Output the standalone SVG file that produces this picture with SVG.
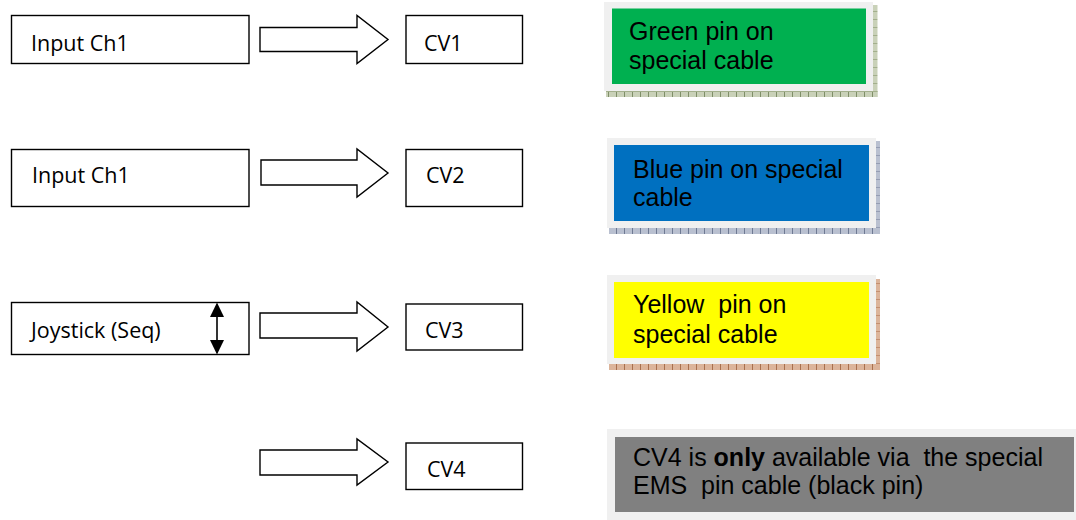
<svg xmlns="http://www.w3.org/2000/svg" width="1076" height="520" viewBox="0 0 1076 520">
<style>
.box{fill:#fff;stroke:#000;stroke-width:1.4}
.blk{fill:#fff;stroke:#000;stroke-width:1.4;stroke-linejoin:miter}
.lt{font-family:"Open Sans","Noto Sans",sans-serif;font-size:21.5px;fill:#000}
.rt{font-family:"Liberation Sans",Arial,sans-serif;font-size:25px;fill:#000;white-space:pre}
.frame{fill:#f0f0f0}
</style>
<defs>
<pattern id="pg" width="8" height="8" patternUnits="userSpaceOnUse">
<rect width="8" height="8" fill="#c9d1b8"/><rect x="0" y="0" width="1" height="8" fill="#7f8f68"/><rect x="0" y="3" width="8" height="1" fill="#a3af8c"/>
</pattern>
<pattern id="pb" width="8" height="8" patternUnits="userSpaceOnUse">
<rect width="8" height="8" fill="#b9c0d0"/><rect x="0" y="0" width="1" height="8" fill="#6f7a93"/><rect x="0" y="3" width="8" height="1" fill="#959db3"/>
</pattern>
<pattern id="py" width="8" height="8" patternUnits="userSpaceOnUse">
<rect width="8" height="8" fill="#dcb49a"/><rect x="0" y="0" width="1" height="8" fill="#a8704e"/><rect x="0" y="3" width="8" height="1" fill="#c48f70"/>
</pattern>
</defs>

<g id="connectors">
<path class="blk" d="M260,27.5 H357 V15.5 L388,39.5 L357,63.5 V51.5 H260 Z"/>
<path class="blk" d="M261,160 H357 V149 L388,173 L357,197 V185 H261 Z"/>
<path class="blk" d="M260,313 H357 V302 L388,327 L357,351 V338 H260 Z"/>
<path class="blk" d="M260,450 H357 V439 L388,462 L357,485 V475 H260 Z"/>
</g>

<g id="input1">
<rect class="box" x="11.5" y="15.5" width="237.5" height="48"/>
<text class="lt" x="31" y="51">Input Ch1</text>
</g>
<g id="cv1">
<rect class="box" x="406" y="15.5" width="116.5" height="48"/>
<text class="lt" x="424" y="51">CV1</text>
</g>

<g id="input2">
<rect class="box" x="11.5" y="149.5" width="237.5" height="57"/>
<text class="lt" x="32" y="183">Input Ch1</text>
</g>
<g id="cv2">
<rect class="box" x="406" y="149.5" width="116.5" height="57"/>
<text class="lt" x="426" y="183">CV2</text>
</g>

<g id="joystick">
<rect class="box" x="11.5" y="302.5" width="237.5" height="52"/>
<text class="lt" x="31" y="338">Joystick (Seq)</text>
<line x1="217" y1="314" x2="217" y2="343" stroke="#000" stroke-width="1.6"/>
<path d="M217,302.5 L224,317 L210,317 Z" fill="#000"/>
<path d="M217,354.5 L224,340 L210,340 Z" fill="#000"/>
</g>
<g id="cv3">
<rect class="box" x="406" y="304" width="116.5" height="46"/>
<text class="lt" x="425" y="338">CV3</text>
</g>

<g id="cv4">
<rect class="box" x="406" y="443" width="116.5" height="46.5"/>
<text class="lt" x="427" y="477">CV4</text>
</g>

<g id="green">
<rect x="873" y="5" width="4.5" height="92" fill="url(#pg)"/>
<rect x="606" y="91" width="271.5" height="6" fill="url(#pg)"/>
<rect class="frame" x="604" y="2" width="269" height="89"/>
<rect x="612" y="8.5" width="254" height="75.5" fill="#00b050"/>
<text class="rt" x="629" y="40">Green pin on</text>
<text class="rt" x="629" y="69">special cable</text>
</g>

<g id="blue">
<rect x="876" y="141" width="4" height="93" fill="url(#pb)"/>
<rect x="609" y="228" width="271" height="6" fill="url(#pb)"/>
<rect class="frame" x="607" y="138" width="269" height="90"/>
<rect x="614" y="145" width="255" height="76" fill="#0070c0"/>
<text class="rt" x="633" y="178">Blue pin on special</text>
<text class="rt" x="633" y="206">cable</text>
</g>

<g id="yellow">
<rect x="876" y="279" width="4" height="91" fill="url(#py)"/>
<rect x="609" y="364" width="271" height="6" fill="url(#py)"/>
<rect class="frame" x="607" y="275" width="269" height="89"/>
<rect x="614" y="282" width="255" height="76" fill="#ffff00"/>
<text class="rt" x="633" y="313">Yellow  pin on</text>
<text class="rt" x="633" y="343">special cable</text>
</g>

<g id="gray">
<rect class="frame" x="607" y="429" width="469" height="91"/>
<rect x="615" y="437" width="459" height="75" fill="#808080"/>
<text class="rt" x="633" y="466">CV4 is <tspan font-weight="bold">only</tspan> available via  the special</text>
<text class="rt" x="633" y="494">EMS  pin cable (black pin)</text>
</g>
</svg>
